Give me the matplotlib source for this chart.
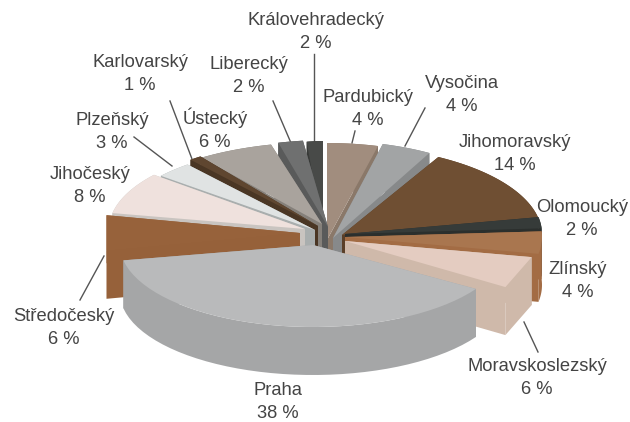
import matplotlib
matplotlib.use("Agg")
import matplotlib.pyplot as plt
import numpy as np

plt.rcParams['font.family'] = ['Liberation Sans', 'DejaVu Sans']

# clockwise from the top of the pie
regions = ["Pardubický", "Vysočina", "Jihomoravský", "Olomoucký", "Zlínský",
           "Moravskoslezský", "Praha", "Středočeský", "Jihočeský", "Plzeňský",
           "Karlovarský", "Ústecký", "Liberecký", "Královehradecký"]
shares = [4, 4, 14, 2, 4, 6, 38, 6, 8, 3, 1, 6, 2, 2]

top_colors = ["#a18d7e", "#a2a4a5", "#6f4f33", "#363b39", "#a9764f", "#e4ccc1", "#b9babb",
              "#97623b", "#efe1dd", "#e0e3e3", "#5f4630", "#a9a39d", "#6f7070", "#484a48"]
side_colors = ["#8a7869", "#87898a", "#5a3f28", "#2b2f2d", "#a36c44", "#cfb9aa", "#a5a6a7",
               "#96613a", "#c9c4c0", "#a9aeae", "#4a3624", "#85807a", "#595a5a", "#383a38"]

# where each slice sits once it is pulled out of the pie
centers = [(327, 240), (333, 238), (342, 235), (345, 234), (345, 237), (345, 241), (313, 245),
           (300, 233), (305, 229), (315, 230), (318, 226), (322, 224), (328, 227), (323, 235)]
radii = [(205, 97), (200, 97), (200, 89), (197, 90), (197, 90), (190, 86), (193, 82),
         (197, 95), (196, 85), (200, 85), (200, 86), (205, 82), (200, 87), (130, 94)]
depth = 48

# these two have a flat outer edge in the picture
flat_slices = [5, 7]

# back slices first, Praha last
draw_order = [13, 0, 12, 1, 11, 2, 10, 9, 3, 8, 4, 7, 5, 6]

label_pos = [(368, 109), (462, 95), (515, 154), (582, 219), (578, 281), (537, 378), (278, 402),
             (64, 328), (90, 186), (112, 132), (140, 74), (215, 129), (249, 76), (316, 32)]
leaders = [((355, 131), (352, 143)), ((425, 108), (405, 146)), ((524, 322), (538, 352)),
           ((80, 300), (104, 256)), ((134, 137), (172, 166)), ((170, 101), (192, 159)),
           ((273, 101), (291, 143)), ((314, 54), (314, 141))]

edges = np.cumsum([0] + shares) * 3.6


def slice_arc(i):
    steps = 2 if i in flat_slices else 40
    ang = np.radians(np.linspace(edges[i], edges[i + 1], steps))
    cx, cy = centers[i]
    rx, ry = radii[i]
    return cx + rx * np.sin(ang), cy - ry * np.cos(ang)


fig, ax = plt.subplots(figsize=(6.3, 4.22), dpi=100)
fig.subplots_adjust(0, 0, 1, 1)
ax.set_xlim(0, 630)
ax.set_ylim(422, 0)
ax.axis("off")

for line in leaders:
    ax.plot([line[0][0], line[1][0]], [line[0][1], line[1][1]], color="#555555", lw=1.0, zorder=1)

for n, i in enumerate(draw_order):
    z = 2 + n
    cx, cy = centers[i]
    x, y = slice_arc(i)
    # the two cut faces
    for k in (0, -1):
        ax.fill([cx, x[k], x[k], cx], [cy, y[k], y[k] + depth, cy + depth],
                color=side_colors[i], lw=0, zorder=z)
    # outer wall
    ax.fill(np.r_[x, x[::-1]], np.r_[y, y[::-1] + depth], color=side_colors[i], lw=0, zorder=z)
    # top
    ax.fill(np.r_[cx, x], np.r_[cy, y], color=top_colors[i], lw=0, zorder=z)

for name, share, pos in zip(regions, shares, label_pos):
    ax.text(pos[0], pos[1], f"{name}\n{share} %", ha="center", va="center", fontsize=13.2,
            color="#444444", linespacing=1.45, zorder=30)

fig.savefig("out.png", dpi=100, facecolor="white")
